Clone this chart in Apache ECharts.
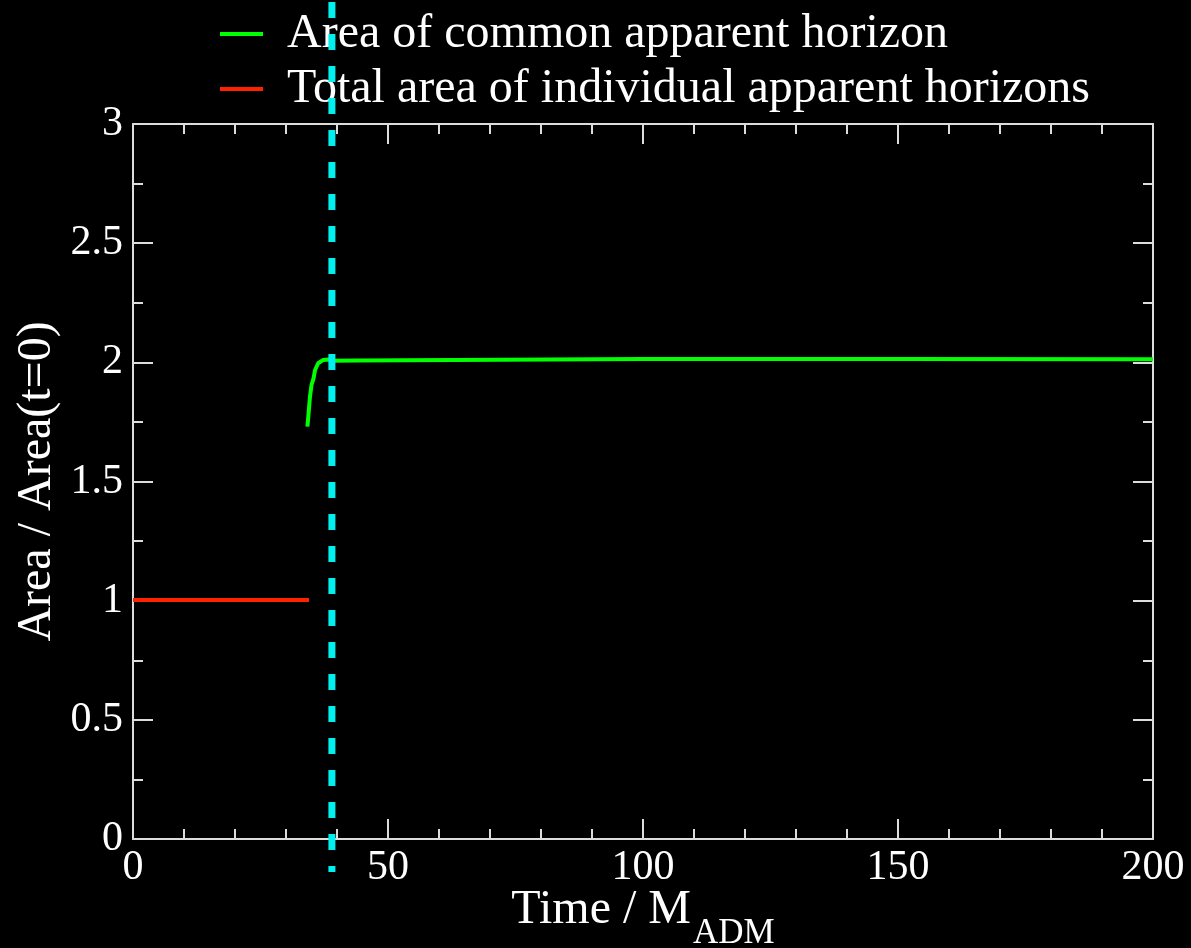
<!DOCTYPE html>
<html>
<head>
<meta charset="utf-8">
<script src="https://cdn.jsdelivr.net/npm/echarts@6/dist/echarts.min.js"></script>
<style>
html,body{margin:0;padding:0;background:#000;}
#c{width:1191px;height:948px;}
</style>
</head>
<body>
<div id="c"></div>
<script>
// ---- Data ----
const seriesNames = ['Area of common apparent horizon', 'Total area of individual apparent horizons'];
const commonT    = [34.2, 34.4, 34.7, 35.0, 35.4, 35.7, 36.3, 37.3, 38.3, 39.0, 44.2, 44.5, 100, 150, 200];
const commonArea = [1.730, 1.779, 1.856, 1.905, 1.933, 1.968, 1.996, 2.010, 2.012, 2.007, 2.008, 2.015, 2.014, 2.014, 2.013];
const indivT     = [0, 34.5];
const indivArea  = [1.003, 1.003];
const mergerT    = 39;
const mergerSpan = [3.512, -0.1385];
const xTicks = [0, 50, 100, 150, 200];
const yTicks = [0, 0.5, 1, 1.5, 2, 2.5, 3];

const FONT = "'Liberation Serif','Times New Roman',serif";
const AX = '#dcdcdc';

const zip = (a, b) => a.map((v, i) => [v, b[i]]);

const chart = echarts.init(document.getElementById('c'), null, {renderer: 'canvas'});

function axisBase(minV, maxV, interval, minorSplit) {
  return {
    type: 'value', min: minV, max: maxV, interval: interval,
    axisLine: {show: true, onZero: false, lineStyle: {color: AX, width: 2}},
    axisTick: {show: true, inside: true, length: 20, lineStyle: {color: AX, width: 2}},
    minorTick: {show: true, splitNumber: minorSplit, length: 10, lineStyle: {color: AX, width: 2}},
    splitLine: {show: false}
  };
}
const xMin = xTicks[0], xMax = xTicks[xTicks.length - 1];
const yMin = yTicks[0], yMax = yTicks[yTicks.length - 1];

chart.setOption({
  backgroundColor: '#000',
  animation: false,
  textStyle: {fontFamily: FONT},
  grid: {left: 133, top: 124, right: 38, bottom: 109, outerBoundsMode: 'none', containLabel: false},
  legend: {
    data: seriesNames,
    orient: 'vertical',
    left: 215, top: 3,
    itemWidth: 43, itemHeight: 4, itemGap: 3,
    icon: 'rect',
    textStyle: {color: '#fff', fontFamily: FONT, fontSize: 48, lineHeight: 52, padding: [0, 0, 0, 19]}
  },
  xAxis: [
    Object.assign(axisBase(xMin, xMax, 50, 5), {
      position: 'bottom',
      axisLabel: {color: '#fff', fontFamily: FONT, fontSize: 42, margin: 8,
        formatter: v => xTicks.includes(v) ? String(v) : ''},
      name: '{a|Time / M}{b|ADM}',
      nameLocation: 'middle', nameGap: 47, nameMoveOverlap: false,
      nameTextStyle: {
        color: '#fff', fontFamily: FONT,
        rich: {
          a: {color: '#fff', fontFamily: FONT, fontSize: 48, lineHeight: 48, verticalAlign: 'top'},
          b: {color: '#fff', fontFamily: FONT, fontSize: 35, lineHeight: 35, verticalAlign: 'top', padding: [30, 0, 0, 2]}
        }
      }
    }),
    Object.assign(axisBase(xMin, xMax, 50, 5), {position: 'top', axisLabel: {show: false}})
  ],
  yAxis: [
    Object.assign(axisBase(yMin, yMax, 0.5, 2), {
      position: 'left',
      axisLabel: {color: '#fff', fontFamily: FONT, fontSize: 42, margin: 10,
        formatter: v => yTicks.includes(v) ? String(v) : ''},
      name: 'Area / Area(t=0)',
      nameLocation: 'middle', nameGap: 72, nameMoveOverlap: false,
      nameTextStyle: {color: '#fff', fontFamily: FONT, fontSize: 48}
    }),
    Object.assign(axisBase(yMin, yMax, 0.5, 2), {position: 'right', axisLabel: {show: false}})
  ],
  series: [
    {
      name: seriesNames[0], type: 'line', data: zip(commonT, commonArea),
      showSymbol: false, symbol: 'none', z: 3,
      lineStyle: {color: '#00ff00', width: 4}, itemStyle: {color: '#00ff00'}
    },
    {
      name: seriesNames[1], type: 'line', data: zip(indivT, indivArea),
      showSymbol: false, symbol: 'none', z: 3,
      lineStyle: {color: '#ff2200', width: 4}, itemStyle: {color: '#ff2200'}
    },
    {
      name: 'merger', type: 'line', data: mergerSpan.map(v => [mergerT, v]),
      showSymbol: false, symbol: 'none', clip: false, silent: true, z: 4,
      lineStyle: {color: '#00f0f0', width: 7, type: [16, 16]}
    }
  ]
});
</script>
</body>
</html>
